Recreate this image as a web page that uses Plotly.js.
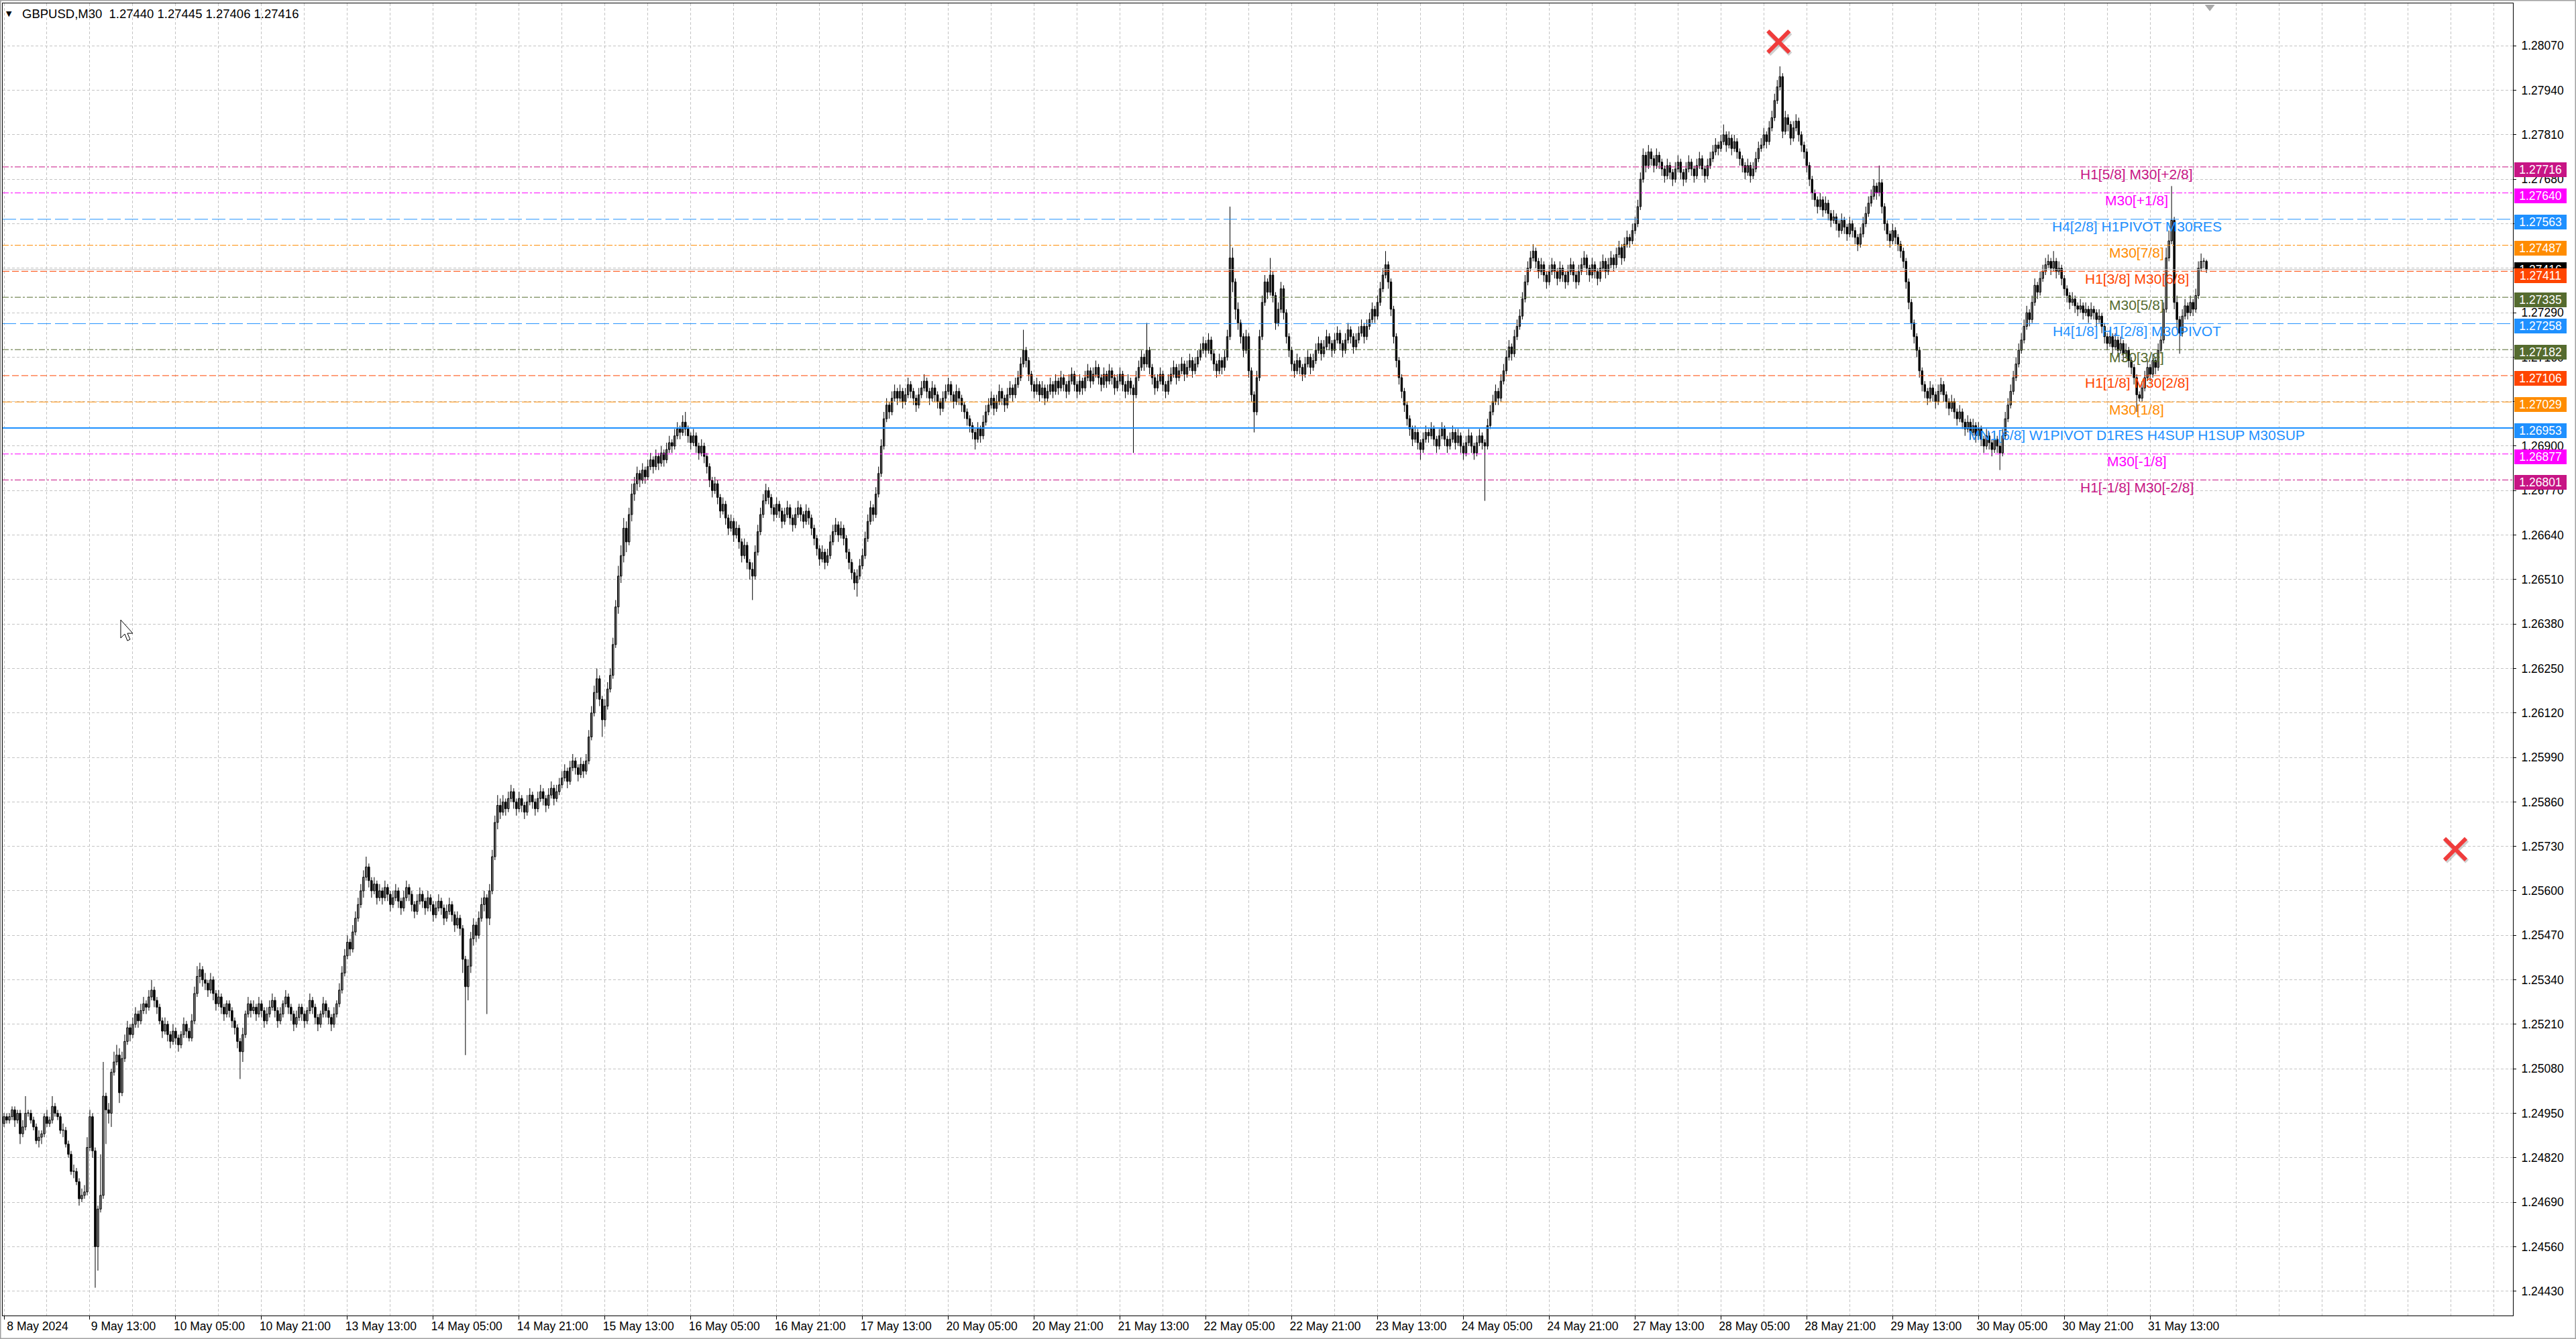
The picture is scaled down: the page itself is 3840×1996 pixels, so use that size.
<!DOCTYPE html>
<html><head><meta charset="utf-8">
<script src="https://cdn.plot.ly/plotly-3.0.1.min.js"></script>
<style>html,body{margin:0;padding:0;background:#fff;}#chart{width:3840px;height:1996px;}</style>
</head><body><div id="chart"></div>
<script>
const symbolName = 'GBPUSD,M30';

const open = [
1.2492,1.2494,1.2493,1.2494,1.2496,1.2493,1.2495,1.2489,1.2491,1.2495,
1.2495,1.2493,1.2491,1.2487,1.2488,1.2489,1.2494,1.2492,1.2493,1.2497,
1.2495,1.2494,1.2490,1.2490,1.2486,1.2483,1.2478,1.2478,1.2475,1.2470,
1.2471,1.2472,1.2485,1.2494,1.2484,1.2456,1.2467,1.2471,1.2500,1.2496,
1.2495,1.2507,1.2510,1.2512,1.2501,1.2511,1.2516,1.2520,1.2518,1.2521,
1.2524,1.2522,1.2525,1.2527,1.2526,1.2529,1.2531,1.2528,1.2526,1.2522,
1.2519,1.2521,1.2518,1.2516,1.2519,1.2517,1.2515,1.2518,1.2521,1.2519,
1.2517,1.2522,1.2530,1.2535,1.2537,1.2534,1.2533,1.2531,1.2534,1.2530,
1.2527,1.2529,1.2526,1.2524,1.2527,1.2525,1.2522,1.2520,1.2516,1.2513,
1.2518,1.2524,1.2527,1.2525,1.2526,1.2524,1.2527,1.2525,1.2522,1.2524,
1.2526,1.2528,1.2525,1.2522,1.2524,1.2527,1.2529,1.2526,1.2524,1.2521,
1.2523,1.2526,1.2524,1.2522,1.2525,1.2528,1.2526,1.2523,1.2521,1.2524,
1.2527,1.2525,1.2523,1.2521,1.2524,1.2527,1.2531,1.2536,1.2541,1.2545,
1.2543,1.2548,1.2552,1.2556,1.2560,1.2564,1.2567,1.2563,1.2560,1.2562,
1.2558,1.2560,1.2558,1.2561,1.2559,1.2556,1.2558,1.2560,1.2557,1.2555,
1.2558,1.2561,1.2559,1.2556,1.2554,1.2557,1.2559,1.2557,1.2555,1.2558,
1.2556,1.2553,1.2555,1.2557,1.2555,1.2552,1.2554,1.2556,1.2553,1.2550,
1.2552,1.2549,1.2540,1.2532,1.2538,1.2546,1.2550,1.2547,1.2552,1.2556,
1.2558,1.2552,1.2560,1.2570,1.2580,1.2585,1.2583,1.2586,1.2584,1.2587,
1.2589,1.2586,1.2584,1.2587,1.2585,1.2583,1.2586,1.2588,1.2586,1.2584,
1.2587,1.2589,1.2587,1.2585,1.2588,1.2590,1.2587,1.2589,1.2591,1.2593,
1.2595,1.2592,1.2596,1.2598,1.2596,1.2594,1.2597,1.2595,1.2598,1.2605,
1.2612,1.2618,1.2622,1.2616,1.2610,1.2614,1.2619,1.2623,1.2632,1.2643,
1.2652,1.2658,1.2666,1.2662,1.2670,1.2676,1.2679,1.2682,1.2680,1.2683,
1.2681,1.2684,1.2686,1.2684,1.2687,1.2685,1.2688,1.2686,1.2689,1.2691,
1.2690,1.2693,1.2695,1.2694,1.2697,1.2695,1.2693,1.2691,1.2693,1.2690,
1.2688,1.2690,1.2687,1.2684,1.2680,1.2677,1.2679,1.2675,1.2671,1.2673,
1.2669,1.2666,1.2668,1.2664,1.2666,1.2662,1.2658,1.2661,1.2656,1.2654,
1.2652,1.2659,1.2665,1.2670,1.2674,1.2677,1.2675,1.2672,1.2670,1.2673,
1.2671,1.2668,1.2670,1.2672,1.2669,1.2667,1.2670,1.2672,1.2670,1.2668,
1.2671,1.2669,1.2666,1.2663,1.2660,1.2657,1.2659,1.2656,1.2658,1.2662,
1.2665,1.2667,1.2664,1.2666,1.2663,1.2659,1.2656,1.2653,1.2650,1.2652,
1.2655,1.2658,1.2663,1.2668,1.2672,1.2670,1.2676,1.2682,1.2690,1.2698,
1.2702,1.2700,1.2704,1.2706,1.2704,1.2706,1.2703,1.2705,1.2708,1.2706,
1.2704,1.2702,1.2705,1.2707,1.2709,1.2706,1.2704,1.2707,1.2705,1.2703,
1.2701,1.2704,1.2706,1.2708,1.2705,1.2703,1.2706,1.2704,1.2702,1.2700,
1.2698,1.2696,1.2694,1.2692,1.2695,1.2693,1.2697,1.2700,1.2702,1.2704,
1.2701,1.2703,1.2706,1.2704,1.2702,1.2705,1.2707,1.2705,1.2708,1.2710,
1.2714,1.2718,1.2715,1.2711,1.2708,1.2706,1.2708,1.2705,1.2707,1.2704,
1.2706,1.2708,1.2706,1.2709,1.2707,1.2710,1.2708,1.2706,1.2709,1.2711,
1.2708,1.2706,1.2709,1.2707,1.2710,1.2712,1.2709,1.2711,1.2713,1.2710,
1.2708,1.2711,1.2709,1.2712,1.2710,1.2707,1.2709,1.2711,1.2708,1.2706,
1.2709,1.2707,1.2705,1.2710,1.2713,1.2716,1.2714,1.2718,1.2713,1.2710,
1.2707,1.2709,1.2711,1.2708,1.2706,1.2709,1.2711,1.2713,1.2710,1.2712,
1.2714,1.2711,1.2713,1.2715,1.2712,1.2714,1.2716,1.2718,1.2720,1.2718,
1.2721,1.2717,1.2714,1.2712,1.2715,1.2713,1.2716,1.2722,1.2745,1.2738,
1.2730,1.2726,1.2722,1.2718,1.2722,1.2712,1.2705,1.2700,1.2710,1.2722,
1.2732,1.2738,1.2735,1.2740,1.2734,1.2726,1.2730,1.2736,1.2729,1.2722,
1.2718,1.2714,1.2712,1.2715,1.2713,1.2711,1.2714,1.2716,1.2713,1.2715,
1.2718,1.2720,1.2717,1.2719,1.2722,1.2720,1.2718,1.2721,1.2723,1.2720,
1.2718,1.2721,1.2724,1.2722,1.2719,1.2721,1.2723,1.2725,1.2722,1.2725,
1.2727,1.2730,1.2728,1.2732,1.2736,1.2740,1.2743,1.2738,1.2730,1.2722,
1.2715,1.2710,1.2706,1.2702,1.2698,1.2695,1.2692,1.2694,1.2691,1.2689,
1.2692,1.2694,1.2693,1.2695,1.2692,1.2690,1.2693,1.2695,1.2692,1.2690,
1.2692,1.2694,1.2691,1.2693,1.2690,1.2688,1.2691,1.2693,1.2690,1.2688,
1.2691,1.2693,1.2691,1.2690,1.2696,1.2700,1.2703,1.2706,1.2704,1.2709,
1.2712,1.2716,1.2719,1.2717,1.2722,1.2725,1.2728,1.2733,1.2738,1.2742,
1.2745,1.2747,1.2744,1.2741,1.2743,1.2740,1.2738,1.2741,1.2743,1.2741,
1.2739,1.2742,1.2740,1.2738,1.2741,1.2743,1.2740,1.2738,1.2741,1.2743,
1.2745,1.2742,1.2740,1.2743,1.2741,1.2739,1.2742,1.2744,1.2741,1.2743,
1.2745,1.2743,1.2746,1.2748,1.2745,1.2749,1.2751,1.2750,1.2753,1.2755,
1.2760,1.2768,1.2775,1.2772,1.2776,1.2774,1.2772,1.2775,1.2773,1.2771,
1.2769,1.2772,1.2770,1.2768,1.2771,1.2773,1.2770,1.2768,1.2771,1.2773,
1.2771,1.2769,1.2772,1.2774,1.2771,1.2769,1.2772,1.2774,1.2776,1.2778,
1.2777,1.2779,1.2781,1.2778,1.2780,1.2777,1.2779,1.2776,1.2774,1.2772,
1.2770,1.2772,1.2769,1.2771,1.2774,1.2777,1.2778,1.2781,1.2779,1.2783,
1.2786,1.2791,1.2795,1.2798,1.2782,1.2786,1.2784,1.2780,1.2783,1.2785,
1.2781,1.2778,1.2776,1.2772,1.2768,1.2764,1.2762,1.2760,1.2762,1.2759,
1.2761,1.2758,1.2756,1.2757,1.2755,1.2753,1.2756,1.2754,1.2752,1.2755,
1.2753,1.2751,1.2749,1.2752,1.2755,1.2758,1.2761,1.2763,1.2766,1.2764,
1.2767,1.2760,1.2755,1.2752,1.2750,1.2753,1.2751,1.2749,1.2747,1.2744,
1.2738,1.2732,1.2726,1.2722,1.2718,1.2712,1.2708,1.2706,1.2704,1.2707,
1.2705,1.2703,1.2706,1.2708,1.2705,1.2703,1.2701,1.2703,1.2700,1.2698,
1.2700,1.2697,1.2695,1.2697,1.2694,1.2696,1.2693,1.2695,1.2692,1.2690,
1.2693,1.2691,1.2689,1.2692,1.2690,1.2688,1.2693,1.2698,1.2702,1.2706,
1.2710,1.2714,1.2718,1.2721,1.2725,1.2729,1.2727,1.2732,1.2737,1.2735,
1.2739,1.2741,1.2743,1.2744,1.2742,1.2744,1.2741,1.2742,1.2739,1.2736,
1.2734,1.2732,1.2733,1.2731,1.2730,1.2731,1.2729,1.2730,1.2728,1.2730,
1.2729,1.2727,1.2728,1.2725,1.2722,1.2720,1.2722,1.2719,1.2721,1.2718,
1.2720,1.2717,1.2718,1.2715,1.2713,1.2710,1.2705,1.2704,1.2707,1.2710,
1.2713,1.2711,1.2715,1.2713,1.2718,1.2721,1.2730,1.2745,1.2750,1.2756,
1.2732,1.2727,1.2723,1.2728,1.2731,1.2729,1.2732,1.2730,1.2734,1.2742,
1.2744,1.27440
];

const high = [
1.2495,1.2495,1.2495,1.2497,1.2497,1.2496,1.2496,1.2493,1.2500,1.2496,
1.2496,1.2494,1.2492,1.2490,1.2490,1.2495,1.2496,1.2494,1.2500,1.2498,
1.2496,1.2495,1.2492,1.2491,1.2487,1.2484,1.2480,1.2479,1.2476,1.2473,
1.2474,1.2488,1.2496,1.2495,1.2485,1.2468,1.2483,1.2510,1.2501,1.2498,
1.2508,1.2513,1.2515,1.2514,1.2513,1.2518,1.2522,1.2521,1.2523,1.2526,
1.2525,1.2527,1.2529,1.2528,1.2531,1.2534,1.2532,1.2529,1.2527,1.2523,
1.2523,1.2522,1.2519,1.2521,1.2520,1.2518,1.2519,1.2523,1.2522,1.2520,
1.2524,1.2532,1.2538,1.2539,1.2538,1.2536,1.2534,1.2536,1.2535,1.2531,
1.2531,1.2530,1.2527,1.2528,1.2528,1.2526,1.2523,1.2521,1.2517,1.2520,
1.2525,1.2529,1.2528,1.2528,1.2527,1.2529,1.2528,1.2526,1.2526,1.2528,
1.2530,1.2529,1.2526,1.2526,1.2528,1.2531,1.2530,1.2527,1.2525,1.2525,
1.2527,1.2527,1.2525,1.2526,1.2530,1.2529,1.2527,1.2524,1.2525,1.2529,
1.2528,1.2526,1.2524,1.2526,1.2528,1.2533,1.2538,1.2543,1.2547,1.2546,
1.2550,1.2554,1.2558,1.2562,1.2566,1.2570,1.2568,1.2564,1.2564,1.2563,
1.2562,1.2561,1.2563,1.2562,1.2560,1.2560,1.2562,1.2561,1.2558,1.2560,
1.2563,1.2562,1.2560,1.2557,1.2559,1.2561,1.2560,1.2558,1.2560,1.2559,
1.2557,1.2557,1.2559,1.2558,1.2556,1.2556,1.2558,1.2557,1.2554,1.2554,
1.2553,1.2550,1.2541,1.2540,1.2548,1.2552,1.2551,1.2554,1.2558,1.2560,
1.2559,1.2562,1.2572,1.2582,1.2588,1.2587,1.2588,1.2587,1.2589,1.2591,
1.2590,1.2587,1.2589,1.2588,1.2586,1.2588,1.2590,1.2589,1.2587,1.2589,
1.2591,1.2590,1.2588,1.2590,1.2592,1.2591,1.2591,1.2593,1.2595,1.2597,
1.2596,1.2598,1.2600,1.2599,1.2597,1.2599,1.2598,1.2600,1.2607,1.2614,
1.2620,1.2625,1.2623,1.2617,1.2616,1.2621,1.2625,1.2634,1.2645,1.2655,
1.2661,1.2669,1.2668,1.2672,1.2679,1.2681,1.2684,1.2683,1.2685,1.2684,
1.2686,1.2688,1.2687,1.2689,1.2688,1.2690,1.2689,1.2691,1.2693,1.2692,
1.2695,1.2697,1.2696,1.2699,1.2700,1.2696,1.2694,1.2695,1.2694,1.2691,
1.2692,1.2691,1.2688,1.2685,1.2681,1.2681,1.2680,1.2676,1.2675,1.2674,
1.2670,1.2670,1.2669,1.2668,1.2667,1.2663,1.2663,1.2662,1.2657,1.2656,
1.2661,1.2667,1.2672,1.2676,1.2679,1.2678,1.2676,1.2673,1.2675,1.2674,
1.2672,1.2672,1.2674,1.2673,1.2670,1.2672,1.2674,1.2673,1.2671,1.2673,
1.2672,1.2670,1.2667,1.2664,1.2661,1.2661,1.2660,1.2660,1.2664,1.2667,
1.2669,1.2668,1.2668,1.2667,1.2664,1.2660,1.2657,1.2654,1.2654,1.2657,
1.2660,1.2665,1.2670,1.2674,1.2673,1.2678,1.2684,1.2692,1.2700,1.2704,
1.2703,1.2706,1.2708,1.2707,1.2708,1.2707,1.2707,1.2710,1.2709,1.2707,
1.2705,1.2707,1.2709,1.2711,1.2710,1.2707,1.2709,1.2708,1.2706,1.2704,
1.2706,1.2708,1.2710,1.2709,1.2706,1.2708,1.2707,1.2705,1.2703,1.2701,
1.2699,1.2697,1.2695,1.2697,1.2696,1.2699,1.2702,1.2704,1.2706,1.2705,
1.2705,1.2708,1.2707,1.2705,1.2707,1.2709,1.2708,1.2710,1.2712,1.2716,
1.2724,1.2719,1.2716,1.2712,1.2709,1.2710,1.2709,1.2709,1.2708,1.2708,
1.2710,1.2709,1.2711,1.2710,1.2712,1.2711,1.2709,1.2711,1.2713,1.2712,
1.2709,1.2711,1.2710,1.2712,1.2714,1.2713,1.2713,1.2715,1.2714,1.2711,
1.2713,1.2712,1.2714,1.2713,1.2711,1.2711,1.2713,1.2712,1.2709,1.2711,
1.2710,1.2708,1.2712,1.2715,1.2718,1.2717,1.2726,1.2719,1.2714,1.2711,
1.2711,1.2713,1.2712,1.2709,1.2711,1.2713,1.2715,1.2714,1.2714,1.2716,
1.2715,1.2715,1.2717,1.2716,1.2716,1.2718,1.2720,1.2722,1.2721,1.2723,
1.2722,1.2718,1.2715,1.2717,1.2716,1.2718,1.2724,1.2760,1.2748,1.2739,
1.2732,1.2727,1.2723,1.2724,1.2723,1.2713,1.2706,1.2712,1.2724,1.2734,
1.2740,1.2739,1.2745,1.2741,1.2735,1.2732,1.2738,1.2737,1.2730,1.2723,
1.2719,1.2715,1.2717,1.2716,1.2714,1.2716,1.2718,1.2717,1.2717,1.2720,
1.2722,1.2721,1.2721,1.2724,1.2723,1.2721,1.2723,1.2725,1.2724,1.2721,
1.2723,1.2726,1.2725,1.2723,1.2723,1.2725,1.2727,1.2726,1.2727,1.2729,
1.2732,1.2731,1.2734,1.2738,1.2742,1.2747,1.2744,1.2739,1.2731,1.2723,
1.2716,1.2711,1.2707,1.2703,1.2699,1.2696,1.2696,1.2695,1.2692,1.2694,
1.2696,1.2695,1.2697,1.2696,1.2693,1.2695,1.2697,1.2696,1.2693,1.2694,
1.2696,1.2695,1.2695,1.2694,1.2691,1.2693,1.2695,1.2694,1.2691,1.2693,
1.2695,1.2694,1.2692,1.2698,1.2702,1.2705,1.2708,1.2707,1.2711,1.2714,
1.2718,1.2721,1.2720,1.2724,1.2727,1.2730,1.2735,1.2740,1.2744,1.2747,
1.2749,1.2748,1.2745,1.2745,1.2744,1.2741,1.2743,1.2745,1.2744,1.2742,
1.2744,1.2743,1.2741,1.2743,1.2745,1.2744,1.2741,1.2743,1.2745,1.2747,
1.2746,1.2743,1.2745,1.2744,1.2742,1.2744,1.2746,1.2745,1.2745,1.2747,
1.2746,1.2748,1.2750,1.2749,1.2751,1.2753,1.2752,1.2755,1.2757,1.2762,
1.2770,1.2777,1.2776,1.2778,1.2777,1.2775,1.2777,1.2776,1.2774,1.2772,
1.2774,1.2773,1.2771,1.2773,1.2775,1.2774,1.2771,1.2773,1.2775,1.2774,
1.2772,1.2774,1.2776,1.2775,1.2772,1.2774,1.2776,1.2778,1.2780,1.2779,
1.2781,1.2784,1.2782,1.2782,1.2781,1.2781,1.2780,1.2777,1.2775,1.2773,
1.2774,1.2773,1.2773,1.2776,1.2779,1.2780,1.2783,1.2782,1.2785,1.2788,
1.2793,1.2797,1.2801,1.2799,1.2788,1.2787,1.2785,1.2785,1.2787,1.2786,
1.2782,1.2779,1.2777,1.2773,1.2769,1.2765,1.2763,1.2764,1.2763,1.2763,
1.2762,1.2759,1.2759,1.2758,1.2756,1.2758,1.2757,1.2755,1.2757,1.2756,
1.2754,1.2752,1.2754,1.2757,1.2760,1.2763,1.2765,1.2768,1.2767,1.2772,
1.2768,1.2761,1.2756,1.2753,1.2755,1.2754,1.2752,1.2750,1.2748,1.2745,
1.2739,1.2733,1.2727,1.2723,1.2719,1.2713,1.2709,1.2707,1.2709,1.2708,
1.2706,1.2708,1.2710,1.2709,1.2706,1.2704,1.2705,1.2704,1.2701,1.2702,
1.2701,1.2698,1.2699,1.2698,1.2698,1.2697,1.2697,1.2696,1.2693,1.2695,
1.2694,1.2692,1.2694,1.2693,1.2691,1.2695,1.2700,1.2704,1.2708,1.2712,
1.2716,1.2720,1.2723,1.2727,1.2731,1.2730,1.2734,1.2739,1.2738,1.2741,
1.2743,1.2745,1.2746,1.2745,1.2747,1.2745,1.2744,1.2743,1.2740,1.2737,
1.2735,1.2735,1.2734,1.2732,1.2733,1.2732,1.2732,1.2731,1.2732,1.2731,
1.2730,1.2730,1.2729,1.2726,1.2723,1.2724,1.2723,1.2723,1.2722,1.2722,
1.2721,1.2720,1.2719,1.2716,1.2714,1.2711,1.2706,1.2709,1.2712,1.2715,
1.2714,1.2717,1.2716,1.2720,1.2723,1.2732,1.2748,1.2753,1.2766,1.2757,
1.2734,1.2728,1.2730,1.2733,1.2732,1.2734,1.2733,1.2736,1.2744,1.27463,
1.2745,1.27445
];

const low = [
1.2491,1.2492,1.2492,1.2493,1.2491,1.2492,1.2486,1.2488,1.2490,1.2494,
1.2492,1.2490,1.2486,1.2485,1.2486,1.2488,1.2491,1.2491,1.2492,1.2494,
1.2493,1.2489,1.2488,1.2485,1.2482,1.2477,1.2476,1.2474,1.2468,1.2469,
1.2470,1.2471,1.2484,1.2482,1.2444,1.2449,1.2466,1.2470,1.2486,1.2492,
1.2491,1.2506,1.2509,1.2498,1.2500,1.2510,1.2515,1.2516,1.2517,1.2520,
1.2520,1.2521,1.2524,1.2524,1.2525,1.2528,1.2526,1.2524,1.2521,1.2517,
1.2518,1.2516,1.2514,1.2515,1.2515,1.2513,1.2514,1.2517,1.2517,1.2516,
1.2516,1.2521,1.2529,1.2533,1.2532,1.2531,1.2529,1.2530,1.2528,1.2525,
1.2526,1.2524,1.2522,1.2523,1.2523,1.2520,1.2518,1.2514,1.2505,1.2510,
1.2517,1.2523,1.2523,1.2524,1.2522,1.2523,1.2523,1.2520,1.2521,1.2523,
1.2525,1.2523,1.2520,1.2521,1.2523,1.2526,1.2524,1.2522,1.2519,1.2520,
1.2522,1.2522,1.2520,1.2521,1.2524,1.2524,1.2521,1.2519,1.2520,1.2523,
1.2523,1.2521,1.2519,1.2520,1.2523,1.2526,1.2530,1.2535,1.2540,1.2541,
1.2542,1.2547,1.2551,1.2555,1.2558,1.2563,1.2561,1.2558,1.2559,1.2556,
1.2557,1.2556,1.2557,1.2557,1.2554,1.2555,1.2557,1.2555,1.2553,1.2554,
1.2557,1.2557,1.2554,1.2552,1.2553,1.2556,1.2555,1.2553,1.2554,1.2554,
1.2551,1.2552,1.2554,1.2553,1.2550,1.2551,1.2553,1.2551,1.2548,1.2549,
1.2547,1.2536,1.2512,1.2528,1.2536,1.2544,1.2545,1.2546,1.2551,1.2554,
1.2524,1.2550,1.2559,1.2569,1.2578,1.2581,1.2582,1.2582,1.2583,1.2586,
1.2584,1.2582,1.2583,1.2583,1.2581,1.2582,1.2585,1.2584,1.2582,1.2583,
1.2586,1.2585,1.2583,1.2584,1.2587,1.2585,1.2586,1.2588,1.2590,1.2592,
1.2590,1.2591,1.2595,1.2594,1.2592,1.2593,1.2593,1.2594,1.2597,1.2604,
1.2611,1.2616,1.2614,1.2605,1.2608,1.2613,1.2618,1.2622,1.2631,1.2641,
1.2650,1.2656,1.2659,1.2661,1.2668,1.2674,1.2677,1.2678,1.2679,1.2679,
1.2680,1.2683,1.2682,1.2683,1.2683,1.2684,1.2684,1.2685,1.2688,1.2688,
1.2689,1.2692,1.2692,1.2693,1.2693,1.2691,1.2689,1.2690,1.2688,1.2686,
1.2687,1.2685,1.2682,1.2678,1.2675,1.2676,1.2673,1.2669,1.2670,1.2667,
1.2664,1.2665,1.2662,1.2663,1.2660,1.2656,1.2657,1.2654,1.2651,1.2645,
1.2651,1.2658,1.2664,1.2669,1.2673,1.2673,1.2670,1.2668,1.2669,1.2669,
1.2666,1.2667,1.2669,1.2667,1.2665,1.2666,1.2669,1.2668,1.2666,1.2667,
1.2667,1.2664,1.2661,1.2658,1.2655,1.2656,1.2654,1.2655,1.2657,1.2661,
1.2664,1.2662,1.2663,1.2661,1.2657,1.2654,1.2651,1.2648,1.2646,1.2651,
1.2654,1.2657,1.2662,1.2667,1.2668,1.2669,1.2675,1.2681,1.2689,1.2697,
1.2698,1.2699,1.2703,1.2702,1.2703,1.2701,1.2702,1.2704,1.2704,1.2702,
1.2700,1.2701,1.2704,1.2706,1.2704,1.2702,1.2703,1.2703,1.2701,1.2699,
1.2700,1.2703,1.2705,1.2703,1.2701,1.2702,1.2702,1.2700,1.2698,1.2696,
1.2694,1.2692,1.2689,1.2691,1.2691,1.2692,1.2696,1.2699,1.2701,1.2699,
1.2700,1.2702,1.2702,1.2700,1.2701,1.2704,1.2703,1.2704,1.2707,1.2709,
1.2713,1.2713,1.2709,1.2706,1.2704,1.2705,1.2703,1.2704,1.2702,1.2703,
1.2705,1.2704,1.2705,1.2705,1.2706,1.2706,1.2704,1.2705,1.2708,1.2706,
1.2704,1.2705,1.2705,1.2706,1.2709,1.2707,1.2708,1.2710,1.2708,1.2706,
1.2707,1.2707,1.2708,1.2708,1.2705,1.2706,1.2708,1.2706,1.2704,1.2705,
1.2705,1.2688,1.2704,1.2709,1.2712,1.2712,1.2713,1.2711,1.2708,1.2705,
1.2706,1.2708,1.2706,1.2704,1.2705,1.2708,1.2710,1.2708,1.2709,1.2711,
1.2709,1.2710,1.2712,1.2710,1.2711,1.2713,1.2715,1.2717,1.2716,1.2717,
1.2715,1.2712,1.2710,1.2711,1.2711,1.2712,1.2715,1.2721,1.2735,1.2727,
1.2724,1.2720,1.2716,1.2717,1.2710,1.2703,1.2694,1.2699,1.2709,1.2721,
1.2731,1.2733,1.2734,1.2732,1.2724,1.2725,1.2729,1.2727,1.2720,1.2716,
1.2712,1.2710,1.2711,1.2711,1.2709,1.2710,1.2713,1.2711,1.2712,1.2714,
1.2717,1.2715,1.2716,1.2718,1.2718,1.2716,1.2717,1.2720,1.2718,1.2716,
1.2717,1.2720,1.2720,1.2717,1.2718,1.2720,1.2722,1.2720,1.2721,1.2724,
1.2726,1.2726,1.2727,1.2731,1.2735,1.2739,1.2736,1.2728,1.2720,1.2713,
1.2708,1.2704,1.2700,1.2696,1.2693,1.2690,1.2691,1.2689,1.2686,1.2688,
1.2691,1.2691,1.2692,1.2690,1.2688,1.2689,1.2692,1.2690,1.2688,1.2689,
1.2691,1.2689,1.2690,1.2688,1.2686,1.2687,1.2690,1.2688,1.2686,1.2687,
1.2690,1.2689,1.2674,1.2689,1.2695,1.2699,1.2702,1.2702,1.2703,1.2708,
1.2711,1.2715,1.2715,1.2716,1.2721,1.2724,1.2727,1.2732,1.2737,1.2741,
1.2744,1.2742,1.2739,1.2740,1.2738,1.2736,1.2737,1.2740,1.2739,1.2737,
1.2738,1.2738,1.2736,1.2737,1.2740,1.2738,1.2736,1.2737,1.2740,1.2742,
1.2740,1.2738,1.2739,1.2739,1.2737,1.2738,1.2741,1.2739,1.2740,1.2742,
1.2741,1.2742,1.2745,1.2743,1.2744,1.2748,1.2748,1.2749,1.2752,1.2754,
1.2759,1.2767,1.2770,1.2771,1.2772,1.2770,1.2771,1.2771,1.2769,1.2767,
1.2768,1.2768,1.2766,1.2767,1.2770,1.2768,1.2766,1.2767,1.2770,1.2769,
1.2767,1.2768,1.2771,1.2769,1.2767,1.2768,1.2771,1.2773,1.2775,1.2775,
1.2776,1.2778,1.2776,1.2777,1.2775,1.2776,1.2774,1.2772,1.2770,1.2768,
1.2769,1.2767,1.2768,1.2770,1.2773,1.2776,1.2777,1.2777,1.2778,1.2782,
1.2785,1.2790,1.2794,1.2780,1.2781,1.2782,1.2778,1.2779,1.2782,1.2779,
1.2776,1.2774,1.2770,1.2766,1.2762,1.2760,1.2758,1.2759,1.2757,1.2758,
1.2756,1.2754,1.2755,1.2753,1.2751,1.2752,1.2752,1.2750,1.2751,1.2751,
1.2749,1.2747,1.2748,1.2751,1.2754,1.2757,1.2760,1.2762,1.2762,1.2763,
1.2758,1.2753,1.2750,1.2748,1.2749,1.2749,1.2747,1.2745,1.2742,1.2736,
1.2730,1.2724,1.2720,1.2716,1.2710,1.2706,1.2704,1.2702,1.2703,1.2703,
1.2701,1.2702,1.2705,1.2703,1.2701,1.2699,1.2700,1.2698,1.2696,1.2697,
1.2695,1.2693,1.2694,1.2692,1.2693,1.2691,1.2692,1.2690,1.2688,1.2689,
1.2689,1.2687,1.2688,1.2688,1.2683,1.2687,1.2692,1.2697,1.2701,1.2705,
1.2709,1.2713,1.2717,1.2720,1.2724,1.2725,1.2726,1.2731,1.2733,1.2734,
1.2738,1.2740,1.2742,1.2740,1.2741,1.2739,1.2740,1.2737,1.2734,1.2732,
1.2730,1.2731,1.2729,1.2728,1.2729,1.2727,1.2728,1.2726,1.2727,1.2727,
1.2725,1.2726,1.2723,1.2720,1.2718,1.2719,1.2717,1.2718,1.2716,1.2717,
1.2715,1.2716,1.2713,1.2711,1.2708,1.2700,1.2703,1.2703,1.2706,1.2709,
1.2709,1.2710,1.2711,1.2712,1.2717,1.2720,1.2729,1.2744,1.2749,1.2730,
1.2724,1.2717,1.2722,1.2727,1.2727,1.2728,1.2728,1.2729,1.2733,1.2741,
1.2742,1.27406
];

const close = [
1.2494,1.2493,1.2494,1.2496,1.2493,1.2495,1.2489,1.2491,1.2495,1.2495,
1.2493,1.2491,1.2487,1.2488,1.2489,1.2494,1.2492,1.2493,1.2497,1.2495,
1.2494,1.2490,1.2490,1.2486,1.2483,1.2478,1.2478,1.2475,1.2470,1.2471,
1.2472,1.2485,1.2494,1.2484,1.2456,1.2467,1.2471,1.2500,1.2496,1.2495,
1.2507,1.2510,1.2512,1.2501,1.2511,1.2516,1.2520,1.2518,1.2521,1.2524,
1.2522,1.2525,1.2527,1.2526,1.2529,1.2531,1.2528,1.2526,1.2522,1.2519,
1.2521,1.2518,1.2516,1.2519,1.2517,1.2515,1.2518,1.2521,1.2519,1.2517,
1.2522,1.2530,1.2535,1.2537,1.2534,1.2533,1.2531,1.2534,1.2530,1.2527,
1.2529,1.2526,1.2524,1.2527,1.2525,1.2522,1.2520,1.2516,1.2513,1.2518,
1.2524,1.2527,1.2525,1.2526,1.2524,1.2527,1.2525,1.2522,1.2524,1.2526,
1.2528,1.2525,1.2522,1.2524,1.2527,1.2529,1.2526,1.2524,1.2521,1.2523,
1.2526,1.2524,1.2522,1.2525,1.2528,1.2526,1.2523,1.2521,1.2524,1.2527,
1.2525,1.2523,1.2521,1.2524,1.2527,1.2531,1.2536,1.2541,1.2545,1.2543,
1.2548,1.2552,1.2556,1.2560,1.2564,1.2567,1.2563,1.2560,1.2562,1.2558,
1.2560,1.2558,1.2561,1.2559,1.2556,1.2558,1.2560,1.2557,1.2555,1.2558,
1.2561,1.2559,1.2556,1.2554,1.2557,1.2559,1.2557,1.2555,1.2558,1.2556,
1.2553,1.2555,1.2557,1.2555,1.2552,1.2554,1.2556,1.2553,1.2550,1.2552,
1.2549,1.2540,1.2532,1.2538,1.2546,1.2550,1.2547,1.2552,1.2556,1.2558,
1.2552,1.2560,1.2570,1.2580,1.2585,1.2583,1.2586,1.2584,1.2587,1.2589,
1.2586,1.2584,1.2587,1.2585,1.2583,1.2586,1.2588,1.2586,1.2584,1.2587,
1.2589,1.2587,1.2585,1.2588,1.2590,1.2587,1.2589,1.2591,1.2593,1.2595,
1.2592,1.2596,1.2598,1.2596,1.2594,1.2597,1.2595,1.2598,1.2605,1.2612,
1.2618,1.2622,1.2616,1.2610,1.2614,1.2619,1.2623,1.2632,1.2643,1.2652,
1.2658,1.2666,1.2662,1.2670,1.2676,1.2679,1.2682,1.2680,1.2683,1.2681,
1.2684,1.2686,1.2684,1.2687,1.2685,1.2688,1.2686,1.2689,1.2691,1.2690,
1.2693,1.2695,1.2694,1.2697,1.2695,1.2693,1.2691,1.2693,1.2690,1.2688,
1.2690,1.2687,1.2684,1.2680,1.2677,1.2679,1.2675,1.2671,1.2673,1.2669,
1.2666,1.2668,1.2664,1.2666,1.2662,1.2658,1.2661,1.2656,1.2654,1.2652,
1.2659,1.2665,1.2670,1.2674,1.2677,1.2675,1.2672,1.2670,1.2673,1.2671,
1.2668,1.2670,1.2672,1.2669,1.2667,1.2670,1.2672,1.2670,1.2668,1.2671,
1.2669,1.2666,1.2663,1.2660,1.2657,1.2659,1.2656,1.2658,1.2662,1.2665,
1.2667,1.2664,1.2666,1.2663,1.2659,1.2656,1.2653,1.2650,1.2652,1.2655,
1.2658,1.2663,1.2668,1.2672,1.2670,1.2676,1.2682,1.2690,1.2698,1.2702,
1.2700,1.2704,1.2706,1.2704,1.2706,1.2703,1.2705,1.2708,1.2706,1.2704,
1.2702,1.2705,1.2707,1.2709,1.2706,1.2704,1.2707,1.2705,1.2703,1.2701,
1.2704,1.2706,1.2708,1.2705,1.2703,1.2706,1.2704,1.2702,1.2700,1.2698,
1.2696,1.2694,1.2692,1.2695,1.2693,1.2697,1.2700,1.2702,1.2704,1.2701,
1.2703,1.2706,1.2704,1.2702,1.2705,1.2707,1.2705,1.2708,1.2710,1.2714,
1.2718,1.2715,1.2711,1.2708,1.2706,1.2708,1.2705,1.2707,1.2704,1.2706,
1.2708,1.2706,1.2709,1.2707,1.2710,1.2708,1.2706,1.2709,1.2711,1.2708,
1.2706,1.2709,1.2707,1.2710,1.2712,1.2709,1.2711,1.2713,1.2710,1.2708,
1.2711,1.2709,1.2712,1.2710,1.2707,1.2709,1.2711,1.2708,1.2706,1.2709,
1.2707,1.2705,1.2710,1.2713,1.2716,1.2714,1.2718,1.2713,1.2710,1.2707,
1.2709,1.2711,1.2708,1.2706,1.2709,1.2711,1.2713,1.2710,1.2712,1.2714,
1.2711,1.2713,1.2715,1.2712,1.2714,1.2716,1.2718,1.2720,1.2718,1.2721,
1.2717,1.2714,1.2712,1.2715,1.2713,1.2716,1.2722,1.2745,1.2738,1.2730,
1.2726,1.2722,1.2718,1.2722,1.2712,1.2705,1.2700,1.2710,1.2722,1.2732,
1.2738,1.2735,1.2740,1.2734,1.2726,1.2730,1.2736,1.2729,1.2722,1.2718,
1.2714,1.2712,1.2715,1.2713,1.2711,1.2714,1.2716,1.2713,1.2715,1.2718,
1.2720,1.2717,1.2719,1.2722,1.2720,1.2718,1.2721,1.2723,1.2720,1.2718,
1.2721,1.2724,1.2722,1.2719,1.2721,1.2723,1.2725,1.2722,1.2725,1.2727,
1.2730,1.2728,1.2732,1.2736,1.2740,1.2743,1.2738,1.2730,1.2722,1.2715,
1.2710,1.2706,1.2702,1.2698,1.2695,1.2692,1.2694,1.2691,1.2689,1.2692,
1.2694,1.2693,1.2695,1.2692,1.2690,1.2693,1.2695,1.2692,1.2690,1.2692,
1.2694,1.2691,1.2693,1.2690,1.2688,1.2691,1.2693,1.2690,1.2688,1.2691,
1.2693,1.2691,1.2690,1.2696,1.2700,1.2703,1.2706,1.2704,1.2709,1.2712,
1.2716,1.2719,1.2717,1.2722,1.2725,1.2728,1.2733,1.2738,1.2742,1.2745,
1.2747,1.2744,1.2741,1.2743,1.2740,1.2738,1.2741,1.2743,1.2741,1.2739,
1.2742,1.2740,1.2738,1.2741,1.2743,1.2740,1.2738,1.2741,1.2743,1.2745,
1.2742,1.2740,1.2743,1.2741,1.2739,1.2742,1.2744,1.2741,1.2743,1.2745,
1.2743,1.2746,1.2748,1.2745,1.2749,1.2751,1.2750,1.2753,1.2755,1.2760,
1.2768,1.2775,1.2772,1.2776,1.2774,1.2772,1.2775,1.2773,1.2771,1.2769,
1.2772,1.2770,1.2768,1.2771,1.2773,1.2770,1.2768,1.2771,1.2773,1.2771,
1.2769,1.2772,1.2774,1.2771,1.2769,1.2772,1.2774,1.2776,1.2778,1.2777,
1.2779,1.2781,1.2778,1.2780,1.2777,1.2779,1.2776,1.2774,1.2772,1.2770,
1.2772,1.2769,1.2771,1.2774,1.2777,1.2778,1.2781,1.2779,1.2783,1.2786,
1.2791,1.2795,1.2798,1.2782,1.2786,1.2784,1.2780,1.2783,1.2785,1.2781,
1.2778,1.2776,1.2772,1.2768,1.2764,1.2762,1.2760,1.2762,1.2759,1.2761,
1.2758,1.2756,1.2757,1.2755,1.2753,1.2756,1.2754,1.2752,1.2755,1.2753,
1.2751,1.2749,1.2752,1.2755,1.2758,1.2761,1.2763,1.2766,1.2764,1.2767,
1.2760,1.2755,1.2752,1.2750,1.2753,1.2751,1.2749,1.2747,1.2744,1.2738,
1.2732,1.2726,1.2722,1.2718,1.2712,1.2708,1.2706,1.2704,1.2707,1.2705,
1.2703,1.2706,1.2708,1.2705,1.2703,1.2701,1.2703,1.2700,1.2698,1.2700,
1.2697,1.2695,1.2697,1.2694,1.2696,1.2693,1.2695,1.2692,1.2690,1.2693,
1.2691,1.2689,1.2692,1.2690,1.2688,1.2693,1.2698,1.2702,1.2706,1.2710,
1.2714,1.2718,1.2721,1.2725,1.2729,1.2727,1.2732,1.2737,1.2735,1.2739,
1.2741,1.2743,1.2744,1.2742,1.2744,1.2741,1.2742,1.2739,1.2736,1.2734,
1.2732,1.2733,1.2731,1.2730,1.2731,1.2729,1.2730,1.2728,1.2730,1.2729,
1.2727,1.2728,1.2725,1.2722,1.2720,1.2722,1.2719,1.2721,1.2718,1.2720,
1.2717,1.2718,1.2715,1.2713,1.2710,1.2705,1.2704,1.2707,1.2710,1.2713,
1.2711,1.2715,1.2713,1.2718,1.2721,1.2730,1.2745,1.2750,1.2756,1.2732,
1.2727,1.2723,1.2728,1.2731,1.2729,1.2732,1.2730,1.2734,1.2742,1.2744,
1.2744,1.27416
];

const timeLabels = ['8 May 2024','9 May 13:00','10 May 05:00','10 May 21:00','13 May 13:00','14 May 05:00',
  '14 May 21:00','15 May 13:00','16 May 05:00','16 May 21:00','17 May 13:00','20 May 05:00','20 May 21:00',
  '21 May 13:00','22 May 05:00','22 May 21:00','23 May 13:00','24 May 05:00','24 May 21:00','27 May 13:00',
  '28 May 05:00','28 May 21:00','29 May 13:00','30 May 05:00','30 May 21:00','31 May 13:00'];
const timeLabelBars = [0,32,64,96,128,160,192,224,256,288,320,352,384,416,448,480,512,544,576,608,640,672,704,736,768,800];

const levelPrices = [1.27716,1.27640,1.27563,1.27487,1.27411,1.27335,1.27258,1.27182,1.27106,1.27029,1.26953,1.26877,1.26801];
const levelNames = ['H1[5/8] M30[+2/8]','M30[+1/8]','H4[2/8] H1PIVOT M30RES','M30[7/8]','H1[3/8] M30[6/8]','M30[5/8]',
  'H4[1/8] H1[2/8] M30PIVOT','M30[3/8]','H1[1/8] M30[2/8]','M30[1/8]','MN1[6/8] W1PIVOT D1RES H4SUP H1SUP M30SUP',
  'M30[-1/8]','H1[-1/8] M30[-2/8]'];
const extremeMarks = {bar: [661.5, 913.75], price: [1.28082, 1.25722]};
const cursorAt = {bar: 43.5, price: 1.26392};

/* ---------- styles (kept apart from the data) ---------- */
const levelColors = ['#C71585','#FF00FF','#1E90FF','#FF8C00','#FF4500','#556B2F','#1E90FF','#556B2F','#FF4500','#FF8C00','#1E90FF','#FF00FF','#C71585'];
const DD = '9px,3px,3px,3px', DA = '10px,4px', LD = '20px,6px';
const levelDash = [DD,DD,LD,DD,DA,DD,LD,DD,DA,'14px,4px','solid',DD,DD];
const levelWidth = [1,1,1,1,1,1,1,1,1,1,2,1,1];
const FONT = 'Liberation Sans, Arial, sans-serif';
const GRID = '#c4c4c4';

const idx = close.map((_, i) => i);
const lastI = close.length - 1;

const wickX = [], wickY = [];
idx.forEach(i => { wickX.push(i, i, null); wickY.push(low[i], high[i], null); });

const bodyBase = idx.map(i => Math.min(open[i], close[i]));
const bodyLen = idx.map(i => Math.max(Math.abs(close[i] - open[i]), 0.000012));
const bodyFill = idx.map(i => close[i] >= open[i] ? '#ffffff' : '#000000');

const traces = [
  {type:'scatter', mode:'lines', x: wickX, y: wickY, line:{color:'#000', width:1}, hoverinfo:'skip', connectgaps:false},
  {type:'bar', x: idx, base: bodyBase, y: bodyLen, width: 0.62,
   marker:{color: bodyFill, line:{color:'#000', width:1}}, hoverinfo:'skip'},
  {type:'scatter', mode:'markers', x: extremeMarks.bar.map(b => b + 0.4), y: extremeMarks.price.map(p => p - 0.00005),
   marker:{symbol:'x-thin', size:32, line:{width:7, color:'rgba(120,120,120,0.35)'}}, hoverinfo:'skip', cliponaxis:false},
  {type:'scatter', mode:'markers', x: extremeMarks.bar, y: extremeMarks.price,
   marker:{symbol:'x-thin', size:32, line:{width:6, color:'#F03C3C'}}, hoverinfo:'skip', cliponaxis:false},
  {type:'scatter', mode:'markers', x:[lastI + 1.25], y:[1.28184],
   marker:{symbol:'triangle-down', size:13, color:'#a8a8a8'}, hoverinfo:'skip', cliponaxis:false}
];

const shapes = [];
shapes.push({type:'line', xref:'paper', x0:0, x1:1, yref:'y', y0: close[lastI], y1: close[lastI],
  line:{color:'#c0c0c0', width:1}, layer:'above'});
levelPrices.forEach((p, k) => {
  shapes.push({type:'line', xref:'paper', x0:0, x1:1, yref:'y', y0:p, y1:p,
    line:{color: levelColors[k], width: levelWidth[k], dash: levelDash[k]}, layer:'above'});
});
// mouse pointer left on the chart
shapes.push({type:'path', xref:'x', yref:'y', xsizemode:'pixel', ysizemode:'pixel',
  xanchor: cursorAt.bar, yanchor: cursorAt.price,
  path:'M0,0 L0,-27 L6,-21 L10,-31 L14,-29 L10,-20 L18,-20 Z',
  fillcolor:'#ffffff', line:{color:'#000', width:1}, layer:'above'});
// window frame
shapes.push({type:'rect', xref:'paper', yref:'paper', x0:-4/3742, x1:(3840-4)/3742, y0:-35/1956, y1:1+5/1956,
  line:{color:'#a0a0a0', width:3}, fillcolor:'rgba(0,0,0,0)', layer:'above'});

const annotations = [];
levelPrices.forEach((p, k) => {
  annotations.push({xref:'x', yref:'y', x: 795, y: p, yshift: -11, text: levelNames[k], showarrow:false,
    xanchor:'center', yanchor:'middle', font:{family: FONT, size: 21, color: levelColors[k]}});
});
// current bid label (black) then level price boxes
annotations.push({xref:'paper', yref:'y', x:1, xanchor:'left', xshift:2, y: close[lastI], yanchor:'middle',
  text: close[lastI].toFixed(5), showarrow:false, bgcolor:'#000', bordercolor:'#000', borderwidth:1, borderpad:0,
  width:76, height:20, font:{family: FONT, size:17.5, color:'#fff'}});
levelPrices.forEach((p, k) => {
  annotations.push({xref:'paper', yref:'y', x:1, xanchor:'left', xshift:2, y: p, yanchor:'middle',
    yshift: (k === 4 ? -7 : -4), text: p.toFixed(5), showarrow:false, bgcolor: levelColors[k],
    bordercolor: levelColors[k], borderwidth:1, borderpad:0, width:76, height:20,
    font:{family: FONT, size:17.5, color:'#fff'}});
});
// header
annotations.push({xref:'paper', yref:'paper', x:0, y:1, xanchor:'left', yanchor:'top', xshift:3, yshift:-7,
  text:'\u25BC', showarrow:false, font:{family:'DejaVu Sans, sans-serif', size:11, color:'#000'}});
annotations.push({xref:'paper', yref:'paper', x:0, y:1, xanchor:'left', yanchor:'top', xshift:27, yshift:-3,
  text: symbolName + '\u00a0\u00a0' + [open[lastI], high[lastI], low[lastI], close[lastI]].map(v => v.toFixed(5)).join(' '),
  showarrow:false, font:{family: FONT, size:18.5, color:'#000'}});

const layout = {
  width: 3840, height: 1996,
  margin: {l: 4, r: 94, t: 5, b: 35, pad: 0},
  paper_bgcolor:'#ffffff', plot_bgcolor:'#ffffff',
  showlegend:false, barmode:'overlay', bargap:0,
  xaxis: {
    range:[-0.5, 935.25], tickmode:'array', tickvals: timeLabelBars, ticktext: timeLabels,
    ticks:'outside', ticklen:5, tickcolor:'#000', tickwidth:1,
    tickfont:{family: FONT, size:17.5, color:'#000'}, ticklabelshift: 50, ticklabelstandoff: -5,
    showgrid:true, gridcolor: GRID, gridwidth:1, griddash:'4px,3px',
    minor:{tick0:0, dtick:16, showgrid:true, gridcolor: GRID, gridwidth:1, griddash:'4px,3px', ticks:''},
    showline:true, mirror:true, linecolor:'#000', linewidth:1, zeroline:false, fixedrange:true
  },
  yaxis: {
    side:'right', range:[1.243588, 1.281941], tickmode:'linear', tick0:1.24430, dtick:0.0013, tickformat:'.5f',
    ticks:'outside', ticklen:4, tickcolor:'#000', tickwidth:1,
    tickfont:{family: FONT, size:17.5, color:'#000'}, ticklabelstandoff: 4,
    showgrid:true, gridcolor: GRID, gridwidth:1, griddash:'4px,3px',
    showline:true, mirror:true, linecolor:'#000', linewidth:1, zeroline:false, fixedrange:true
  },
  shapes, annotations
};

Plotly.newPlot('chart', traces, layout, {staticPlot:true, displayModeBar:false});
</script>
</body></html>
